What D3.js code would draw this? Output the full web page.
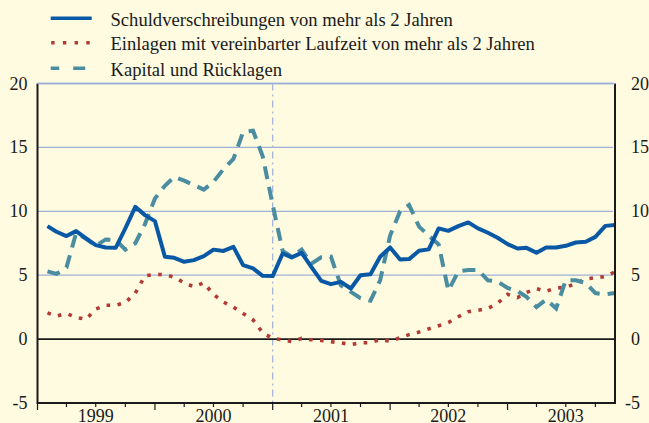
<!DOCTYPE html>
<html><head><meta charset="utf-8">
<script src="https://cdn.jsdelivr.net/npm/d3@7"></script>
<style>
html,body{margin:0;padding:0;background:#fefbe0;}
svg{display:block;}
text{font-family:"Liberation Serif","Times New Roman",serif;fill:#1a1a1a;}
</style></head>
<body>
<svg id="chart" width="649" height="423"></svg>
<script>
// ---- data (monthly, Jan 1999 – Nov 2003) ----
const startMonth = new Date(1999, 0, 1);
const endMonth = new Date(2003, 11, 1); // exclusive
const seriesNames = [
  "Schuldverschreibungen von mehr als 2 Jahren",
  "Einlagen mit vereinbarter Laufzeit von mehr als 2 Jahren",
  "Kapital und Rücklagen"
];
const schuldverschreibungen = [
  8.84, 8.4, 8.06, 8.45, 7.88, 7.35, 7.17, 7.14, 8.66, 10.35, 9.7, 9.23,
  6.44, 6.36, 6.05, 6.18, 6.49, 7.0, 6.9, 7.22, 5.79, 5.53, 4.95, 4.93,
  6.7, 6.39, 6.75, 5.65, 4.56, 4.3, 4.48, 3.96, 5.0, 5.08, 6.44, 7.17,
  6.23, 6.26, 6.91, 7.02, 8.66, 8.47, 8.84, 9.13, 8.66, 8.32, 7.93, 7.43,
  7.09, 7.14, 6.75, 7.17, 7.17, 7.3, 7.56, 7.61, 8.0, 8.86, 8.92
];
const einlagen = [
  2.05, 1.8, 2.0, 1.7, 1.55, 2.35, 2.65, 2.65, 2.85, 3.6, 4.95, 5.05,
  5.05, 4.85, 4.4, 4.1, 4.4, 3.5, 2.9, 2.5, 2.0, 1.5, 0.5, 0.05,
  -0.05, -0.2, 0.05, -0.05, -0.1, -0.2, -0.3, -0.42, -0.3, -0.27, -0.05, -0.15,
  0.1, 0.35, 0.55, 0.8, 1.05, 1.3, 1.75, 2.15, 2.25, 2.4, 2.8, 3.5,
  3.25, 3.65, 3.95, 3.75, 4.0, 4.05, 4.35, 4.7, 4.8, 4.9, 5.25
];
const kapital = [
  5.3, 5.1, 5.6, 8.3, 7.85, 7.3, 7.8, 7.75, 7.0, 7.5, 9.0, 11.0,
  12.0, 12.7, 12.4, 12.05, 11.7, 12.3, 13.3, 14.1, 16.2, 16.3, 14.3, 10.5,
  6.9, 6.45, 7.0, 5.9, 6.4, 6.45, 4.2, 3.7, 3.2, 3.0, 4.6, 8.1,
  10.0, 10.5, 8.8, 8.1, 7.4, 3.8, 5.3, 5.4, 5.4, 4.6, 4.5, 4.0,
  3.75, 3.3, 2.5, 3.1, 2.4, 4.6, 4.6, 4.4, 3.6, 3.5, 3.6
];
const yTicks = [-5, 0, 5, 10, 15, 20];
const yearLabels = ["1999", "2000", "2001", "2002", "2003"];
const markerDate = new Date(2001, 0, 1);

// ---- setup ----
const svg = d3.select("#chart");
const W = 649, H = 423;
svg.append("rect").attr("width", W).attr("height", H).attr("fill", "#fefbe0");

const x = d3.scaleTime().domain([startMonth, endMonth]).range([37.5, 615]);
const y = d3.scaleLinear().domain([-5, 20]).range([403, 83.5]);

const months = d3.timeMonth.range(startMonth, endMonth);
const pos = d => x(d3.timeMonth.offset(d, 1)); // value at month end

// grid
svg.append("g").selectAll("line")
  .data(yTicks.filter(v => v !== 0 && v !== -5))
  .join("line")
  .attr("x1", x.range()[0]).attr("x2", x.range()[1] - 2)
  .attr("y1", d => y(d)).attr("y2", d => y(d))
  .attr("stroke", "#9fb0d8").attr("stroke-width", 1.3);

// vertical marker
svg.append("line")
  .attr("x1", x(markerDate)).attr("x2", x(markerDate))
  .attr("y1", y(20)).attr("y2", y(-5))
  .attr("stroke", "#a6b6da").attr("stroke-width", 1.3)
  .attr("stroke-dasharray", "7,4,2,4");

// zero line
svg.append("line")
  .attr("x1", x.range()[0]).attr("x2", x.range()[1])
  .attr("y1", y(0)).attr("y2", y(0))
  .attr("stroke", "#1a1a1a").attr("stroke-width", 1.6);

// series
const line = d3.line().x((d, i) => pos(months[i])).y(d => y(d));
svg.append("path").datum(einlagen).attr("d", line)
  .attr("fill", "none").attr("stroke", "#b23a35").attr("stroke-width", 3.6)
  .attr("stroke-dasharray", "3.6,7.4");
svg.append("path").datum(kapital).attr("d", line)
  .attr("fill", "none").attr("stroke", "#4b8da0").attr("stroke-width", 4)
  .attr("stroke-dasharray", "13,8");
svg.append("path").datum(schuldverschreibungen).attr("d", line)
  .attr("fill", "none").attr("stroke", "#0858a5").attr("stroke-width", 4)
  .attr("stroke-linejoin", "round");

// axes lines
svg.append("line").attr("x1", x.range()[0]).attr("x2", x.range()[0])
  .attr("y1", y(20)).attr("y2", y(-5) + 1).attr("stroke", "#1a1a1a").attr("stroke-width", 2);
svg.append("line").attr("x1", x.range()[1]).attr("x2", x.range()[1])
  .attr("y1", y(20)).attr("y2", y(-5) + 1).attr("stroke", "#1a1a1a").attr("stroke-width", 2);
svg.append("line").attr("x1", x.range()[0]).attr("x2", x.range()[1])
  .attr("y1", y(-5)).attr("y2", y(-5)).attr("stroke", "#1a1a1a").attr("stroke-width", 2);

// top line (20)
svg.append("line").attr("x1", x.range()[0]).attr("x2", x.range()[1])
  .attr("y1", y(20)).attr("y2", y(20)).attr("stroke", "#9fb0d8").attr("stroke-width", 1.3);

// x ticks (quarterly)
const qTicks = d3.timeMonth.every(3).range(startMonth, endMonth);
svg.append("g").selectAll("line").data(qTicks).join("line")
  .attr("x1", d => x(d)).attr("x2", d => x(d))
  .attr("y1", y(-5)).attr("y2", d => y(-5) + (d.getMonth() === 0 ? 7 : 4))
  .attr("stroke", "#1a1a1a").attr("stroke-width", 1.2);

// year labels
svg.append("g").selectAll("text").data(yearLabels).join("text")
  .attr("x", d => x(new Date(+d, 6, 1)))
  .attr("y", 422)
  .attr("text-anchor", "middle")
  .attr("font-size", 18)
  .text(d => d);

// y labels left
svg.append("g").selectAll("text").data(yTicks).join("text")
  .attr("x", 27.5).attr("y", d => y(d) + 6)
  .attr("text-anchor", "end").attr("font-size", 18)
  .text(d => d);
// y labels right
svg.append("g").selectAll("text").data(yTicks).join("text")
  .attr("x", d => d < 0 ? 625 : 631).attr("y", d => y(d) + 6)
  .attr("text-anchor", "start").attr("font-size", 18)
  .text(d => d);

// legend
const legend = svg.append("g");
const rows = [
  {name: seriesNames[0], yy: 18.3, stroke: "#0858a5", w: 3.5, dash: null, off: 0},
  {name: seriesNames[1], yy: 42.7, stroke: "#b23a35", w: 3.4, dash: "3.4,8.3", off: -0.5},
  {name: seriesNames[2], yy: 68.3, stroke: "#4b8da0", w: 3.5, dash: "12,14", off: 3.5}
];
rows.forEach(r => {
  const l = legend.append("line").attr("x1", 50.7).attr("x2", 91.7)
    .attr("y1", r.yy).attr("y2", r.yy)
    .attr("stroke", r.stroke).attr("stroke-width", r.w);
  if (r.dash) l.attr("stroke-dasharray", r.dash).attr("stroke-dashoffset", r.off);
  legend.append("text").attr("x", 110.5).attr("y", r.yy + 7.6)
    .attr("font-size", 18.6).text(r.name);
});
</script>
</body></html>
